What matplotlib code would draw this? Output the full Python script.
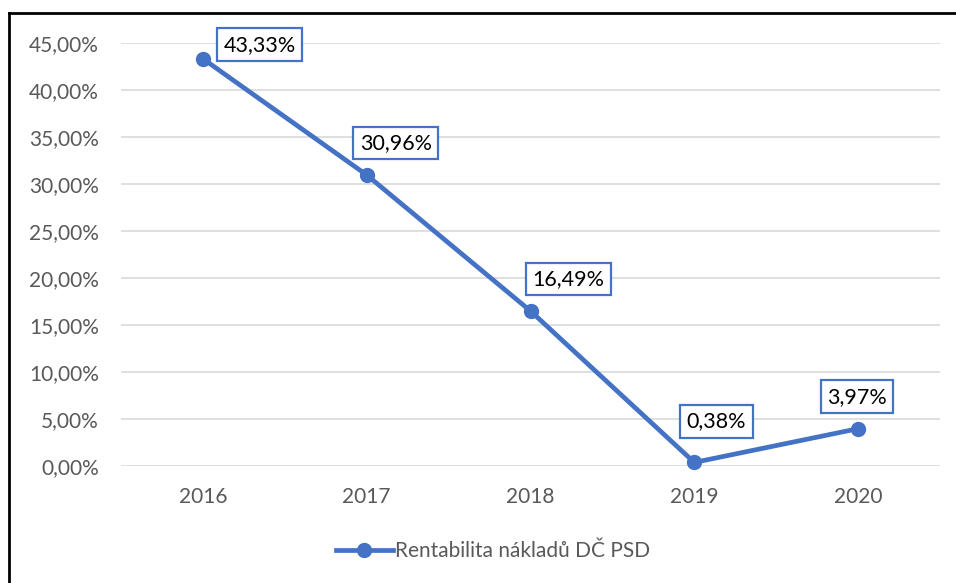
import numpy as np
import matplotlib
matplotlib.use('Agg')
import matplotlib.pyplot as plt
from matplotlib.ticker import FuncFormatter, MultipleLocator
from matplotlib.lines import Line2D

# Data
years = ['2016', '2017', '2018', '2019', '2020']
values = [43.33, 30.96, 16.49, 0.38, 3.97]
series_name = 'Rentabilita nákladů DČ PSD'

# label offsets in pixels (dx, dy)
label_offsets = [(57, 14), (29, 32), (38, 32), (22, 41), (-1, 32)]

plt.rcParams['font.family'] = ['Lato', 'DejaVu Sans']

blue = '#4472C4'
grey = '#595959'

fig = plt.figure(figsize=(9.56, 5.83), dpi=100)
ax = fig.add_axes([121 / 956, 117 / 583, (940 - 121) / 956, (466 - 43) / 583])

x = np.arange(len(years))
ax.plot(x, values, color=blue, linewidth=3.4, marker='o', markersize=10,
        solid_capstyle='round', zorder=3, clip_on=False)

for xi, v, (dx, dy) in zip(x, values, label_offsets):
    ax.annotate(f'{v:.2f}%'.replace('.', ','), (xi, v), xytext=(dx, dy),
                textcoords='offset pixels', ha='center', va='center',
                fontsize=15.5, color='black',
                bbox=dict(boxstyle='square,pad=0.3', fc='white', ec=blue, lw=1.6),
                zorder=4)

ax.set_xlim(-0.5, len(years) - 0.5)
ax.set_ylim(0, 45)
ax.yaxis.set_major_locator(MultipleLocator(5))
ax.yaxis.set_major_formatter(FuncFormatter(lambda v, p: f'{v:.2f}%'.replace('.', ',')))
ax.set_xticks(x)
ax.set_xticklabels(years)
ax.tick_params(axis='both', length=0, labelsize=15, colors=grey)
ax.tick_params(axis='y', pad=16)
ax.tick_params(axis='x', pad=15)
ax.grid(axis='y', color='#D9D9D9', linewidth=1.2)
ax.set_axisbelow(True)
for s in ax.spines.values():
    s.set_visible(False)

handle = Line2D([], [], color=blue, linewidth=3.4, marker='o', markersize=10)
fig.legend([handle], [series_name], loc='center', bbox_to_anchor=(493 / 956, 1 - 551 / 583),
           frameon=False, fontsize=15, labelcolor=grey, handlelength=2.7, handletextpad=0.1)

# outer frame: top and left edges
fig.add_artist(Line2D([9 / 956, 9 / 956], [0, 1 - 13 / 583], color='black', linewidth=2,
                      transform=fig.transFigure))
fig.add_artist(Line2D([9 / 956, 1], [1 - 13 / 583, 1 - 13 / 583], color='black', linewidth=2,
                      transform=fig.transFigure))

fig.savefig('out.png', dpi=100, facecolor='white')
